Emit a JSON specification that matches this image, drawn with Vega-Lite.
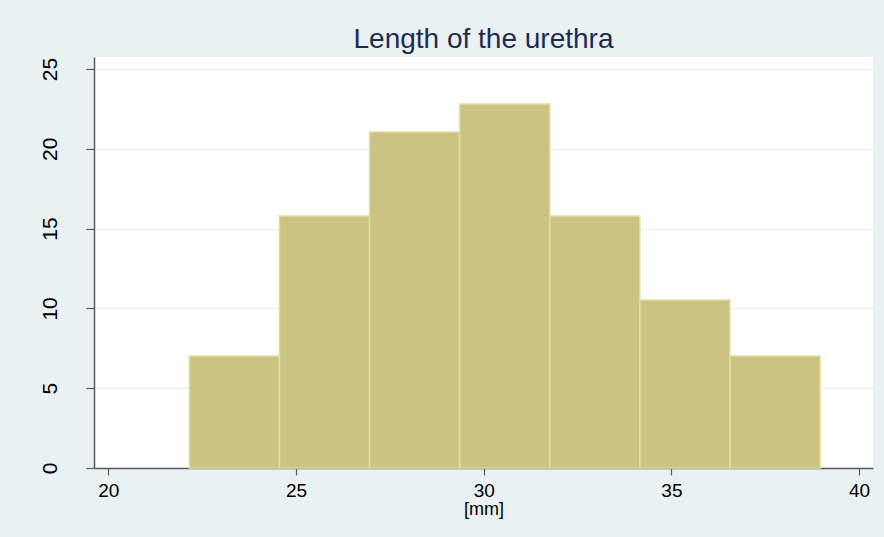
{
  "$schema": "https://vega.github.io/schema/vega-lite/v6.json",
  "width": 779,
  "height": 411,
  "autosize": {"type": "none"},
  "padding": {"left": 94, "top": 57, "right": 11, "bottom": 69},
  "background": "#E9F1F3",
  "title": {
    "text": "Length of the urethra",
    "font": "Liberation Sans",
    "fontSize": 28,
    "fontWeight": "normal",
    "color": "#1D2B53",
    "anchor": "middle",
    "offset": 3
  },
  "config": {
    "view": {"stroke": null, "fill": "white"},
    "axis": {
      "labelFont": "Liberation Sans",
      "titleFont": "Liberation Sans",
      "labelColor": "#000000",
      "titleColor": "#000000",
      "domainColor": "#5A5A5A",
      "domainWidth": 1.5,
      "tickColor": "#5A5A5A",
      "tickWidth": 1.2,
      "gridColor": "#EAF2F3",
      "gridWidth": 1.5
    }
  },
  "data": {
    "values": [
      {"start": 22.16, "end": 24.56, "percent": 7.02},
      {"start": 24.56, "end": 26.96, "percent": 15.79},
      {"start": 26.96, "end": 29.36, "percent": 21.05},
      {"start": 29.36, "end": 31.76, "percent": 22.81},
      {"start": 31.76, "end": 34.16, "percent": 15.79},
      {"start": 34.16, "end": 36.56, "percent": 10.53},
      {"start": 36.56, "end": 38.96, "percent": 7.02}
    ]
  },
  "mark": {"type": "rect", "fill": "#CBC381", "stroke": "#E2DDA8", "strokeWidth": 1.5},
  "encoding": {
    "x": {
      "field": "start",
      "type": "quantitative",
      "scale": {"domain": [19.62, 40.37], "nice": false, "zero": false},
      "axis": {
        "values": [20, 25, 30, 35, 40],
        "grid": false,
        "title": "[mm]",
        "titleFontSize": 18,
        "titleFontWeight": "normal",
        "titlePadding": 0,
        "labelFontSize": 19,
        "labelPadding": 6,
        "tickSize": 7
      }
    },
    "x2": {"field": "end"},
    "y": {
      "field": "percent",
      "type": "quantitative",
      "scale": {"domain": [0, 25.75], "nice": false},
      "axis": {
        "values": [0, 5, 10, 15, 20, 25],
        "grid": true,
        "title": null,
        "labelFontSize": 21,
        "labelAngle": -90,
        "labelAlign": "center",
        "labelBaseline": "bottom",
        "labelPadding": 26,
        "tickSize": 8
      }
    },
    "y2": {"datum": 0}
  }
}
